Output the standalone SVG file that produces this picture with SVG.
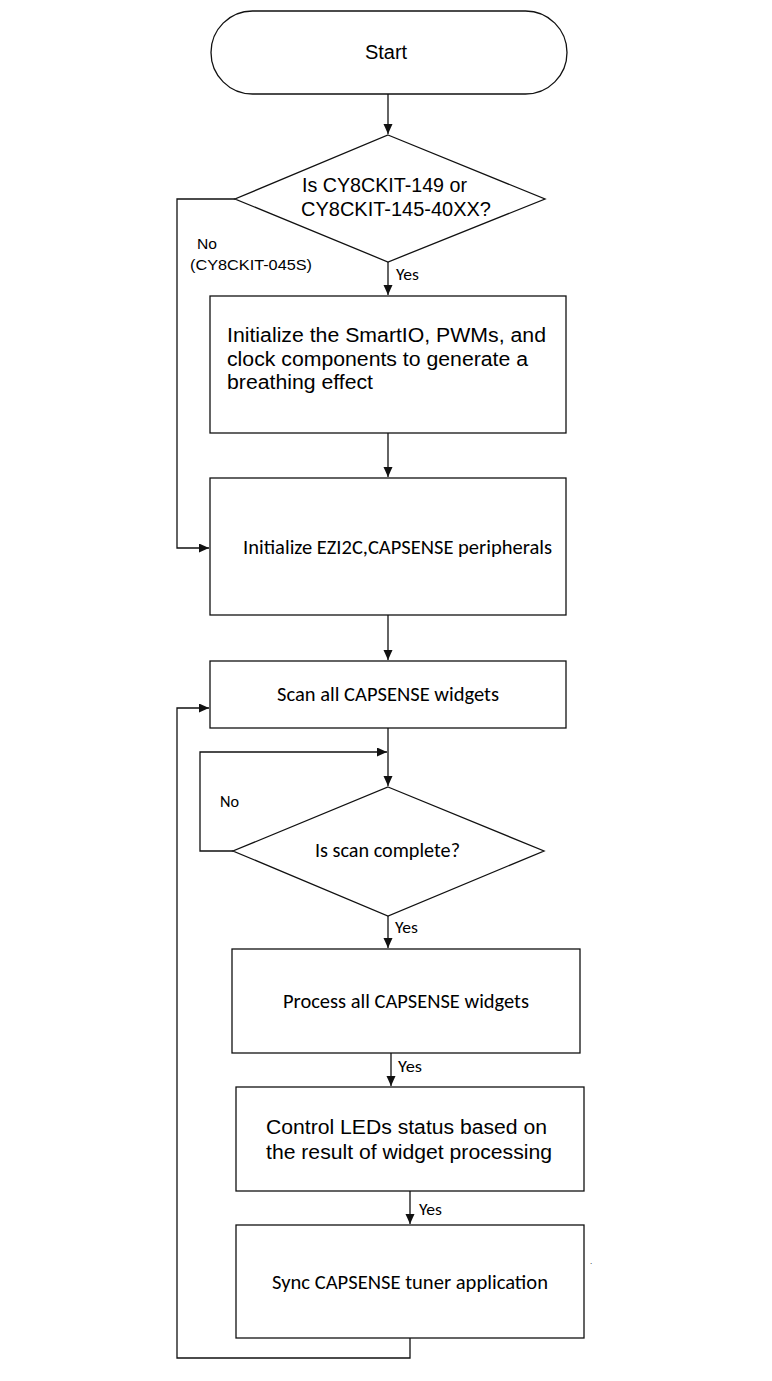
<svg xmlns="http://www.w3.org/2000/svg" width="772" height="1381" viewBox="0 0 772 1381">
<style>
.shape{fill:#fff;stroke:#111;stroke-width:1.3}
.line{fill:none;stroke:#111;stroke-width:1.3}
.arial{font-family:"Liberation Sans",Arial,sans-serif;fill:#000}
.cal{font-family:Carlito,Lato,"Open Sans",sans-serif;fill:#000}
.lbl{font-size:17px}
</style>
<defs>
<marker id="ah" markerUnits="userSpaceOnUse" markerWidth="11" markerHeight="10" refX="10" refY="4.5" orient="auto">
<path d="M0,0 L10,4.5 L0,9 z" fill="#111"/>
</marker>
</defs>
<rect width="772" height="1381" fill="#fff"/>
<g id="connectors">
<path class="line" d="M388,94 V134" marker-end="url(#ah)"/>
<path class="line" d="M388,262 V295" marker-end="url(#ah)"/>
<path class="line" d="M235,199 H177 V548 H209" marker-end="url(#ah)"/>
<path class="line" d="M388,433 V477" marker-end="url(#ah)"/>
<path class="line" d="M388,615 V660" marker-end="url(#ah)"/>
<path class="line" d="M388,728 V786" marker-end="url(#ah)"/>
<path class="line" d="M233,851 H200 V752 H387" marker-end="url(#ah)"/>
<path class="line" d="M388,916 V948" marker-end="url(#ah)"/>
<path class="line" d="M391,1053 V1086" marker-end="url(#ah)"/>
<path class="line" d="M410,1191 V1224" marker-end="url(#ah)"/>
<path class="line" d="M410,1338 V1358 H177 V708 H209" marker-end="url(#ah)"/>
<text class="arial" font-size="15" x="197" y="249" textLength="20" lengthAdjust="spacingAndGlyphs">No</text>
<text class="arial" font-size="15" x="190" y="270" textLength="122" lengthAdjust="spacingAndGlyphs">(CY8CKIT-045S)</text>
<text class="cal lbl" x="396" y="280" textLength="23" lengthAdjust="spacingAndGlyphs">Yes</text>
<text class="cal lbl" x="220" y="807" textLength="19" lengthAdjust="spacingAndGlyphs">No</text>
<text class="cal lbl" x="395" y="933" textLength="23" lengthAdjust="spacingAndGlyphs">Yes</text>
<text class="cal lbl" x="398" y="1072" textLength="24" lengthAdjust="spacingAndGlyphs">Yes</text>
<text class="cal lbl" x="419" y="1215" textLength="23" lengthAdjust="spacingAndGlyphs">Yes</text>
</g>
<g id="start">
<rect class="shape" x="211" y="11" width="356" height="83" rx="41.5" ry="41.5"/>
<text class="arial" font-size="20" x="386" y="59" text-anchor="middle">Start</text>
</g>
<g id="decision1">
<polygon class="shape" points="388,135 545,199 388,262 235,199"/>
<text class="arial" font-size="20" x="302" y="192" textLength="165" lengthAdjust="spacingAndGlyphs">Is CY8CKIT-149 or</text>
<text class="arial" font-size="20" x="301" y="216" textLength="190" lengthAdjust="spacingAndGlyphs">CY8CKIT-145-40XX?</text>
</g>
<g id="init-smartio">
<rect class="shape" x="210" y="296" width="356" height="137"/>
<text class="arial" font-size="20" x="227" y="342" textLength="319" lengthAdjust="spacingAndGlyphs">Initialize the SmartIO, PWMs, and</text>
<text class="arial" font-size="20" x="227" y="366" textLength="301" lengthAdjust="spacingAndGlyphs">clock components to generate a</text>
<text class="arial" font-size="20" x="227" y="389" textLength="146" lengthAdjust="spacingAndGlyphs">breathing effect</text>
</g>
<g id="init-ezi2c">
<rect class="shape" x="210" y="478" width="356" height="137"/>
<text class="cal" font-size="20" x="243" y="554" textLength="309" lengthAdjust="spacingAndGlyphs">Initialize EZI2C,CAPSENSE peripherals</text>
</g>
<g id="scan">
<rect class="shape" x="210" y="661" width="356" height="67"/>
<text class="cal" font-size="20" x="277" y="701" textLength="222" lengthAdjust="spacingAndGlyphs">Scan all CAPSENSE widgets</text>
</g>
<g id="decision2">
<polygon class="shape" points="388,787 544,851 388,916 233,851"/>
<text class="cal" font-size="20" x="315" y="857" textLength="145" lengthAdjust="spacingAndGlyphs">Is scan complete?</text>
</g>
<g id="process">
<rect class="shape" x="232" y="949" width="348" height="104"/>
<text class="cal" font-size="20" x="283" y="1008" textLength="246" lengthAdjust="spacingAndGlyphs">Process all CAPSENSE widgets</text>
</g>
<g id="control">
<rect class="shape" x="236" y="1087" width="348" height="104"/>
<text class="arial" font-size="20" x="266" y="1134" textLength="281" lengthAdjust="spacingAndGlyphs">Control LEDs status based on</text>
<text class="arial" font-size="20" x="266" y="1159" textLength="286" lengthAdjust="spacingAndGlyphs">the result of widget processing</text>
</g>
<g id="sync">
<rect class="shape" x="236" y="1225" width="348" height="113"/>
<text class="cal" font-size="20" x="272" y="1289" textLength="276" lengthAdjust="spacingAndGlyphs">Sync CAPSENSE tuner application</text>
</g>
<text class="arial" font-size="8" x="590" y="1264">.</text>
</svg>
